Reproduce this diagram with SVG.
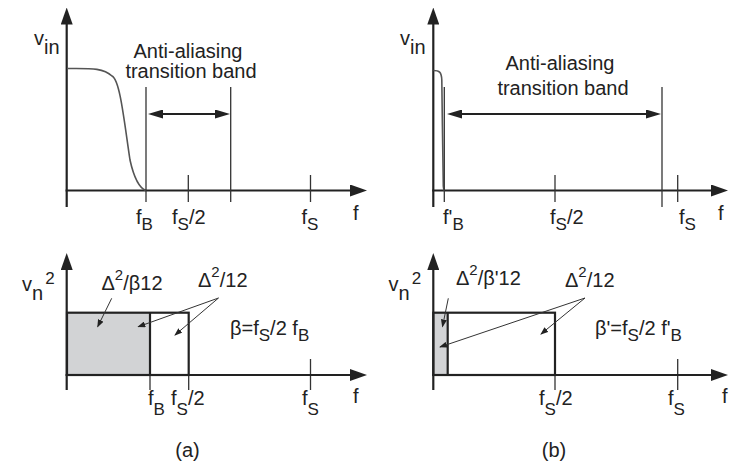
<svg xmlns="http://www.w3.org/2000/svg" width="729" height="466" viewBox="0 0 729 466">
<style>
text{font-family:"Liberation Sans",Arial,sans-serif;font-size:20px;fill:#222}
.sub{font-size:17px}
.sup{font-size:15px}
.axis{stroke:#222;stroke-width:2.2;fill:none}
.tick{stroke:#333;stroke-width:1.3;fill:none}
.box{stroke:#222;stroke-width:2.2}
.dbl{stroke:#222;stroke-width:2;fill:none}
.call{stroke:#333;stroke-width:1;fill:none}
.curve{stroke:#555;stroke-width:1.6;fill:none}
</style>
<defs>
<marker id="ax" markerUnits="userSpaceOnUse" viewBox="0 0 17 12" refX="3" refY="6" markerWidth="17" markerHeight="12" orient="auto"><path d="M0,0 L17,6 L0,12 z" fill="#222"/></marker>
<marker id="dh" markerUnits="userSpaceOnUse" viewBox="0 0 15 9" refX="3" refY="4.5" markerWidth="15" markerHeight="9" orient="auto-start-reverse"><path d="M0,0 L15,4.5 L0,9 z" fill="#222"/></marker>
<marker id="ca" markerUnits="userSpaceOnUse" viewBox="0 0 8 6" refX="7" refY="3" markerWidth="8" markerHeight="6" orient="auto"><path d="M0,0 L8,3 L0,6 z" fill="#222"/></marker>
</defs>

<!-- Panel (a) top -->
<g id="a-top">
<line class="axis" x1="66.7" y1="207" x2="66.7" y2="21.5" marker-end="url(#ax)"/>
<line class="axis" x1="65.6" y1="190.5" x2="353" y2="190.5" marker-end="url(#ax)"/>
<path class="curve" d="M67,68.5 C90,68.5 103,67.5 112,76 C120,80 124,120 130,160 C134,178 139,188 146,190.5"/>
<line class="tick" x1="146" y1="87" x2="146" y2="202"/>
<line class="tick" x1="188.3" y1="175" x2="188.3" y2="202"/>
<line class="tick" x1="230.7" y1="87" x2="230.7" y2="202"/>
<line class="tick" x1="310.5" y1="175" x2="310.5" y2="202"/>
<text x="34" y="45">v<tspan dy="9">in</tspan></text>
<text x="188" y="58" text-anchor="middle">Anti-aliasing</text>
<text x="191" y="78" text-anchor="middle">transition band</text>
<text x="136" y="224">f<tspan class="sub" dy="6">B</tspan></text>
<text x="172" y="224">f<tspan class="sub" dy="6">S</tspan><tspan dy="-6">/2</tspan></text>
<text x="301.5" y="224">f<tspan class="sub" dy="6">S</tspan></text>
<text x="353" y="220">f</text>
</g>

<!-- Panel (b) top -->
<g id="b-top">
<line class="axis" x1="433.3" y1="207" x2="433.3" y2="21.5" marker-end="url(#ax)"/>
<line class="axis" x1="432.2" y1="190.5" x2="714" y2="190.5" marker-end="url(#ax)"/>
<path class="curve" d="M433.5,70.5 C439,70.5 441.5,71.5 441.8,80 C442.3,110 442.8,170 443.3,186 Q443.6,190.5 444.5,190.5"/>
<line class="tick" x1="444.3" y1="87" x2="444.3" y2="202"/>
<line class="tick" x1="555" y1="175" x2="555" y2="202"/>
<line class="tick" x1="662" y1="87" x2="662" y2="207"/>
<line class="tick" x1="677.7" y1="175" x2="677.7" y2="202"/>
<text x="400" y="45">v<tspan dy="9">in</tspan></text>
<text x="560" y="70" text-anchor="middle">Anti-aliasing</text>
<text x="563" y="95" text-anchor="middle">transition band</text>
<text x="443" y="224">f'<tspan class="sub" dy="6">B</tspan></text>
<text x="550" y="224">f<tspan class="sub" dy="6">S</tspan><tspan dy="-6">/2</tspan></text>
<text x="679" y="224">f<tspan class="sub" dy="6">S</tspan></text>
<text x="718" y="220">f</text>
</g>

<!-- Panel (a) bottom -->
<g id="a-bottom">
<rect x="67" y="312.7" width="83" height="62.3" fill="#d2d3d5" stroke="none"/>
<rect class="box" x="67" y="312.7" width="121.7" height="62.3" fill="none"/>
<line class="box" x1="150" y1="312.7" x2="150" y2="375"/>
<line class="tick" x1="150" y1="375" x2="150" y2="390"/>
<line class="tick" x1="188.7" y1="375" x2="188.7" y2="390"/>
<line class="tick" x1="310.5" y1="359" x2="310.5" y2="390"/>
<line class="axis" x1="66.7" y1="390" x2="66.7" y2="267" marker-end="url(#ax)"/>
<line class="axis" x1="65.6" y1="375" x2="353" y2="375" marker-end="url(#ax)"/>
<text x="22" y="291">v<tspan dy="9">n</tspan><tspan class="sub" dx="2" dy="-16">2</tspan></text>
<text x="101.5" y="290">Δ<tspan class="sup" dy="-10">2</tspan><tspan dy="10">/β12</tspan></text>
<text x="198" y="287">Δ<tspan class="sup" dy="-10">2</tspan><tspan dy="10">/12</tspan></text>
<text x="230" y="335">β=f<tspan class="sub" dy="6">S</tspan><tspan dy="-6">/2 f</tspan><tspan class="sub" dy="6">B</tspan></text>
<text x="148" y="405">f<tspan class="sub" dy="10">B</tspan></text>
<text x="171" y="405">f<tspan class="sub" dy="10">S</tspan><tspan dy="-10">/2</tspan></text>
<text x="302" y="405">f<tspan class="sub" dy="10">S</tspan></text>
<text x="353" y="403">f</text>
<text x="187.5" y="457" text-anchor="middle">(a)</text>
</g>

<!-- Panel (b) bottom -->
<g id="b-bottom">
<rect x="433.3" y="312.7" width="14.4" height="62.3" fill="#d2d3d5" stroke="none"/>
<rect class="box" x="433.3" y="312.7" width="121.7" height="62.3" fill="none"/>
<line class="box" x1="447.7" y1="312.7" x2="447.7" y2="375"/>
<line class="tick" x1="555" y1="375" x2="555" y2="390"/>
<line class="tick" x1="677.7" y1="359" x2="677.7" y2="390"/>
<line class="axis" x1="433.3" y1="390" x2="433.3" y2="267" marker-end="url(#ax)"/>
<line class="axis" x1="432.2" y1="375" x2="714" y2="375" marker-end="url(#ax)"/>
<text x="388.5" y="291">v<tspan dy="9">n</tspan><tspan class="sub" dx="2" dy="-16">2</tspan></text>
<text x="456" y="285">Δ<tspan class="sup" dy="-10">2</tspan><tspan dy="10">/β'12</tspan></text>
<text x="565" y="287">Δ<tspan class="sup" dy="-10">2</tspan><tspan dy="10">/12</tspan></text>
<text x="595" y="335">β'=f<tspan class="sub" dy="6">S</tspan><tspan dy="-6">/2 f'</tspan><tspan class="sub" dy="6">B</tspan></text>
<text x="539" y="405">f<tspan class="sub" dy="10">S</tspan><tspan dy="-10">/2</tspan></text>
<text x="668" y="405">f<tspan class="sub" dy="10">S</tspan></text>
<text x="722" y="403">f</text>
<text x="554" y="457" text-anchor="middle">(b)</text>
</g>

<!-- Connectors -->
<g id="connectors">
<line class="dbl" x1="160" y1="114" x2="218" y2="114" marker-start="url(#dh)" marker-end="url(#dh)"/>
<line class="dbl" x1="459" y1="114" x2="649" y2="114" marker-start="url(#dh)" marker-end="url(#dh)"/>
<line class="call" x1="111.7" y1="298.3" x2="97.7" y2="326.7" marker-end="url(#ca)"/>
<line class="call" x1="218.5" y1="298" x2="138.3" y2="326.7" marker-end="url(#ca)"/>
<line class="call" x1="218.5" y1="298" x2="175" y2="335" marker-end="url(#ca)"/>
<line class="call" x1="448.3" y1="298.3" x2="442.5" y2="326.5" marker-end="url(#ca)"/>
<line class="call" x1="585" y1="298" x2="440" y2="347" marker-end="url(#ca)"/>
<line class="call" x1="585" y1="298" x2="541" y2="334" marker-end="url(#ca)"/>
</g>
</svg>
